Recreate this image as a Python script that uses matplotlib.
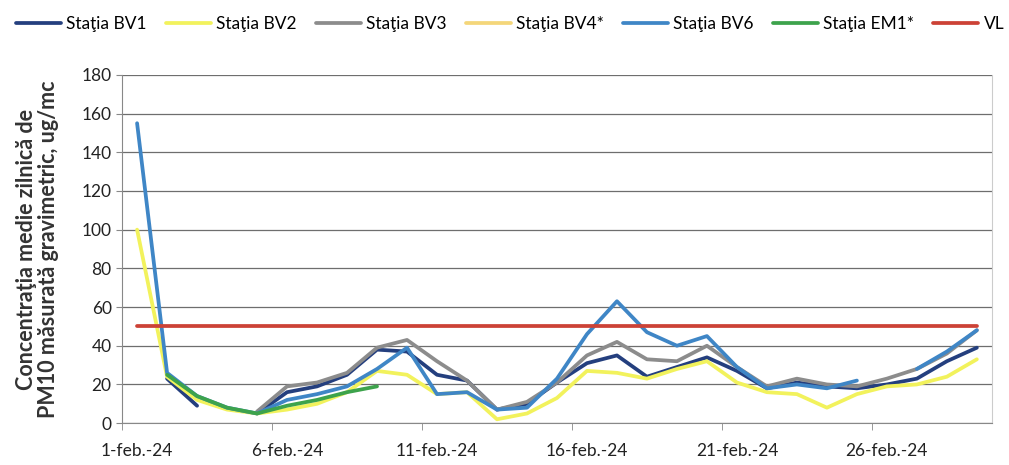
import numpy as np
import matplotlib
matplotlib.use('Agg')
from matplotlib import pyplot as plt

nan = np.nan

# daily PM10 values, 1-29 feb 2024
days = [f'{d}-feb.-24' for d in range(1, 30)]

bv1 = [nan, 23, 9, nan, 5, 16, 19, 25, 38, 37, 25, 22, 7, 10, 21, 31, 35, 24, 29, 34, 27, 18, 21, 19, 18, 20, 23, 32, 39]
bv2 = [100, 24, 12, 7, 5, 7, 10, 16, 27, 25, 15, 16, 2, 5, 13, 27, 26, 23, 28, 32, 21, 16, 15, 8, 15, 19, 20, 24, 33]
bv3 = [nan, nan, nan, nan, 6, 19, 21, 26, 39, 43, 32, 22, 7, 11, 21, 35, 42, 33, 32, 40, 29, 19, 23, 20, 19, 23, 28, 36, 48]
bv4 = [nan] * 29
bv6 = [155, 26, 14, 8, 5, 12, 15, 19, 28, 39, 15, 16, 7, 8, 23, 46, 63, 47, 40, 45, 29, 18, 20, 18, 22, nan, 28, 37, 48]
em1 = [nan, 25, 14, 8, 5, 9, 12, 16, 19, nan, nan, nan, nan, nan, nan, nan, nan, nan, nan, nan, nan, nan, nan, nan, nan, nan, nan, nan, nan]
vl = [50] * 29

series = [
    ('Staţia BV1', bv1, '#243f7e'),
    ('Staţia BV2', bv2, '#f2f25c'),
    ('Staţia BV3', bv3, '#8c8c8c'),
    ('Staţia BV4*', bv4, '#f4d67a'),
    ('Staţia BV6', bv6, '#3f86c6'),
    ('Staţia EM1*', em1, '#3da34c'),
    ('VL', vl, '#cc4236'),
]

plt.rcParams['font.family'] = ['Lato', 'DejaVu Sans']

fig = plt.figure(figsize=(10.09, 4.65), dpi=100)
ax = fig.add_axes([0.121, 0.090, 0.862, 0.749])

x = np.arange(len(days))
for name, vals, col in series:
    ax.plot(x, vals, color=col, lw=2.7, label=name, solid_capstyle='round')

ax.set_xlim(-0.5, len(days) - 0.5)
ax.set_ylim(0, 180)
ax.set_yticks(range(0, 181, 20))
ax.yaxis.grid(True, color='#6e6e6e', lw=0.9)
ax.set_axisbelow(True)

ax.set_xticks(x[::5])
ax.set_xticklabels(days[::5], fontsize=12.5, color='#222222')
ax.set_xticks(np.arange(-0.5, len(days), 5), minor=True)
ax.tick_params(axis='x', which='major', length=0, pad=14)
ax.tick_params(axis='x', which='minor', length=5, color='#888888')
ax.tick_params(axis='y', labelsize=12.5, labelcolor='#222222', length=4, color='#888888')

for s in ['left', 'bottom']:
    ax.spines[s].set_color('#888888')
ax.spines['top'].set_visible(False)
ax.spines['right'].set_color('#cccccc')

ax.set_ylabel('Concentraţia medie zilnică de\nPM10 măsurată gravimetric, ug/mc',
              fontsize=15.5, fontweight='bold', color='#333333', labelpad=16, linespacing=1.1)

fig.legend(loc='upper left', bbox_to_anchor=(0.0, 1.0), ncol=7, frameon=False,
           fontsize=12.5, handlelength=2.6, handletextpad=0.3, columnspacing=1.1)

fig.savefig('out.png', dpi=100)
